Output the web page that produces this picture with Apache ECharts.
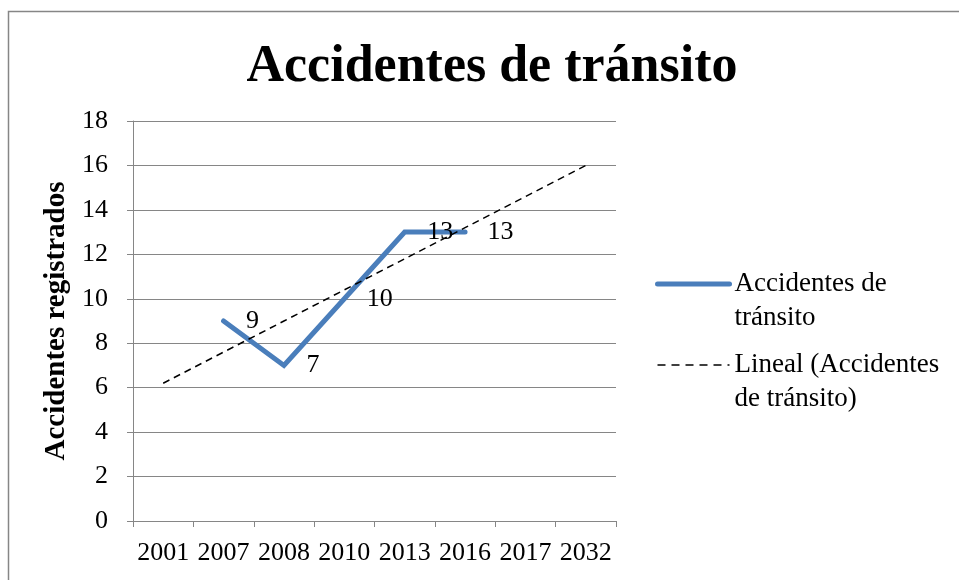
<!DOCTYPE html>
<html>
<head>
<meta charset="utf-8">
<script src="https://cdn.jsdelivr.net/npm/echarts@6/dist/echarts.min.js"></script>
<style>
html,body{margin:0;padding:0;background:#fff;}
#chart{width:959px;height:580px;}
</style>
</head>
<body>
<div id="chart"></div>
<script>
// Data
const categories = ['2001', '2007', '2008', '2010', '2013', '2016', '2017', '2032'];
const accidentes = [null, 9, 7, 10, 13, 13, null, null];
const yTicks = { min: 0, max: 18, interval: 2 };
const seriesName = 'Accidentes de\ntránsito';
const trendName = 'Lineal (Accidentes\nde tránsito)';

// Linear trendline (least squares over category positions 1..n, as a spreadsheet does)
function linearTrend(values) {
  const pts = [];
  values.forEach((v, i) => { if (v !== null) pts.push([i + 1, v]); });
  const n = pts.length;
  const mx = pts.reduce((s, p) => s + p[0], 0) / n;
  const my = pts.reduce((s, p) => s + p[1], 0) / n;
  let sxy = 0, sxx = 0;
  pts.forEach(p => { sxy += (p[0] - mx) * (p[1] - my); sxx += (p[0] - mx) * (p[0] - mx); });
  const slope = sxy / sxx;
  const icpt = my - slope * mx;
  return values.map((_, i) => +(icpt + slope * (i + 1)).toFixed(4));
}
const trend = linearTrend(accidentes);

const FONT = '"Liberation Serif", "DejaVu Serif", serif';
const GRAY = '#868686';
const BLUE = '#4a7ebb';

const chart = echarts.init(document.getElementById('chart'), null, { renderer: 'canvas' });
chart.setOption({
  animation: false,
  backgroundColor: '#ffffff',
  graphic: [{
    type: 'rect',
    shape: { x: 8.5, y: 11.5, width: 1000, height: 1000 },
    style: { fill: 'none', stroke: GRAY, lineWidth: 1.5 },
    silent: true
  }],
  title: {
    text: 'Accidentes de tránsito',
    left: 487,
    textAlign: 'center',
    top: 37,
    textStyle: { fontFamily: FONT, fontWeight: 'bold', fontSize: 52, color: '#000' }
  },
  legend: {
    orient: 'vertical',
    left: 655,
    top: 233,
    padding: 0,
    itemWidth: 72,
    itemHeight: 14,
    itemGap: -21,
    itemStyle: { opacity: 0 },
    formatter: function (name) { return '\n' + name; },
    textStyle: { fontFamily: FONT, fontSize: 27, lineHeight: 34, color: '#000' },
    data: [
      { name: seriesName, lineStyle: { width: 5, cap: 'round', color: BLUE } },
      { name: trendName, lineStyle: { width: 1.5, type: [8, 6], color: '#000' } }
    ]
  },
  grid: { left: 133, right: 343, top: 121, bottom: 59 },
  xAxis: {
    type: 'category',
    data: categories,
    boundaryGap: true,
    axisLine: { lineStyle: { color: GRAY, width: 1 } },
    axisTick: { show: true, length: 6, lineStyle: { color: GRAY } },
    axisLabel: { color: '#000', fontFamily: FONT, fontSize: 26, margin: 19, interval: 0 },
    splitLine: { show: false }
  },
  yAxis: {
    type: 'value',
    min: yTicks.min,
    max: yTicks.max,
    interval: yTicks.interval,
    name: 'Accidentes registrados',
    nameLocation: 'middle',
    nameGap: 57,
    nameTextStyle: { fontFamily: FONT, fontWeight: 'bold', fontSize: 29, color: '#000' },
    axisLine: { show: true, lineStyle: { color: GRAY, width: 1 } },
    axisTick: { show: true, length: 6, lineStyle: { color: GRAY } },
    axisLabel: { color: '#000', fontFamily: FONT, fontSize: 26, margin: 25 },
    splitLine: { show: true, lineStyle: { color: GRAY, width: 1 } }
  },
  series: [
    {
      name: seriesName,
      type: 'line',
      data: accidentes,
      symbol: 'circle',
      symbolSize: 1,
      showSymbol: true,
      connectNulls: false,
      lineStyle: { color: BLUE, width: 5, cap: 'round', join: 'miter' },
      itemStyle: { color: BLUE },
      label: {
        show: true,
        position: 'right',
        distance: 22,
        color: '#000',
        fontFamily: FONT,
        fontSize: 26
      },
      z: 3
    },
    {
      name: trendName,
      type: 'line',
      data: trend,
      symbol: 'none',
      lineStyle: { color: '#000', width: 1.5, type: [7, 5] },
      itemStyle: { color: '#000' },
      label: { show: false },
      z: 4
    }
  ]
});
</script>
</body>
</html>
